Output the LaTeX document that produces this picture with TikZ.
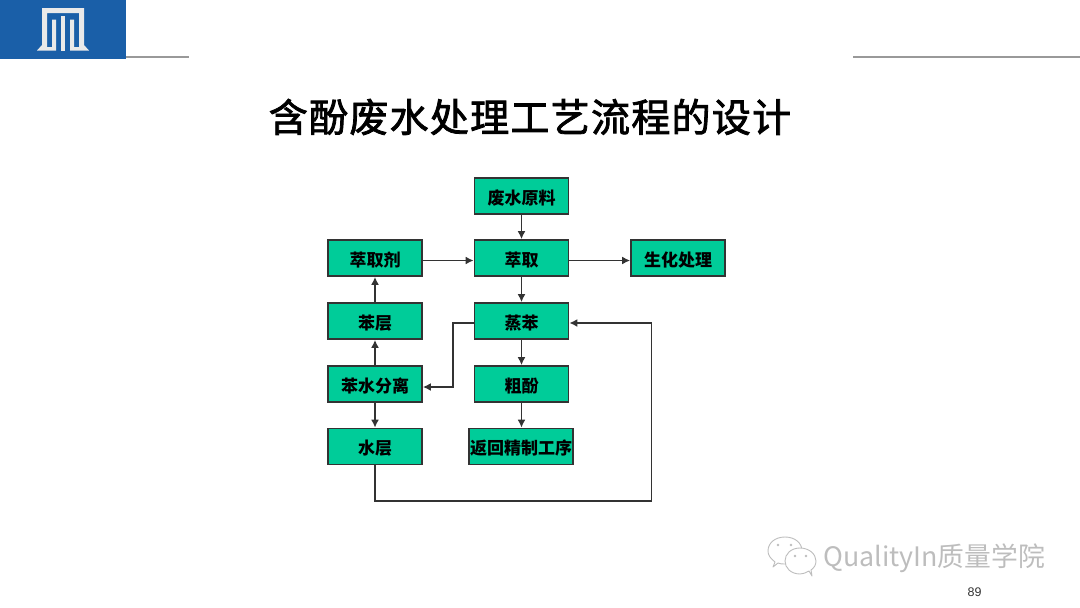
\documentclass[tikz,border=0pt]{standalone}
\usepackage{fontspec}
\setmainfont{Liberation Sans}
\newfontfamily\cjk{Noto Sans CJK SC}
\usetikzlibrary{arrows.meta,calc}
\definecolor{boxgreen}{HTML}{00CC99}
\definecolor{edgeink}{HTML}{333333}
\definecolor{logoblue}{HTML}{1A5FA8}
\definecolor{logolight}{HTML}{E9E9E9}
\definecolor{rulegray}{HTML}{999999}
\definecolor{markgray}{HTML}{BDBDBD}
\tikzset{
  x=1pt,y=-1pt,
  flowbox/.style={draw=edgeink,fill=boxgreen,line width=1.7pt,minimum width=94pt,minimum height=36pt,inner sep=0pt,
    text height=18pt,text depth=1.4pt,
    font=\cjk\bfseries\fontsize{17}{18}\selectfont,text=black},
  flowline/.style={draw=edgeink,line width=1.7pt},
  flowarrow/.style={flowline,-{Latex[length=8pt,width=8pt]}},
  toprule/.style={draw=rulegray,line width=1.3pt},
  bubble/.style={draw=markgray,fill=white,line width=0.9pt,line join=round},
}
\begin{document}
\begin{tikzpicture}
\useasboundingbox (0,0) rectangle (1080,608);
% header
\fill[logoblue] (0,0) rectangle (126,59);
\fill[logolight] (42,8) -- (84,8) -- (84,45) -- (89,50.5) -- (70,50.5) -- (70,19.5) -- (74,19.5) -- (74,47) -- (79,47) -- (79,13) -- (47,13) -- (47,47) -- (52,47) -- (52,19.5) -- (56,19.5) -- (56,50.5) -- (37,50.5) -- (42,45) -- cycle;
\fill[logolight] (61,16) rectangle (65,50.5);
\draw[toprule] (126,57) -- (189,57);
\draw[toprule] (853,57) -- (1080,57);
\node[inner sep=0pt,font=\cjk\fontsize{39}{42}\selectfont\addfontfeature{LetterSpace=3.3,FakeBold=2}] (title) at (530,117) {含酚废水处理工艺流程的设计};
% boxes
\node[flowbox] (raw) at (521.5,196) {废水原料};
\node[flowbox] (ext) at (521.5,258) {萃取};
\node[flowbox] (bio) at (678,258) {生化处理};
\node[flowbox] (sol) at (375,258) {萃取剂};
\node[flowbox] (bl) at (375,321) {苯层};
\node[flowbox] (dist) at (521.5,321) {蒸苯};
\node[flowbox] (sep) at (375,384) {苯水分离};
\node[flowbox] (phe) at (521.5,384) {粗酚};
\node[flowbox] (wl) at (375,446.5) {水层};
\node[flowbox,minimum width=104pt] (ret) at (521,446.5) {返回精制工序};
% connectors
\draw[flowarrow] (raw) -- (ext);
\draw[flowarrow] (ext) -- (dist);
\draw[flowarrow] (dist) -- (phe);
\draw[flowarrow] (phe) -- (ret.north -| phe);
\draw[flowarrow] (bl) -- (sol);
\draw[flowarrow] (sep) -- (bl);
\draw[flowarrow] (sep) -- (wl);
\draw[flowarrow] ($(sol.east)+(0,2.5)$) -- ($(ext.west)+(0,2.5)$);
\draw[flowarrow] ($(ext.east)+(0,2.5)$) -- ($(bio.west)+(0,2.5)$);
\coordinate (d1) at (453,323);
\coordinate (d2) at (453,387);
\draw[flowarrow] (dist.west |- d1) -- (d1) -- (d2) -- (sep.east |- d2);
\coordinate (w1) at (375,501);
\coordinate (w2) at (651.5,501);
\coordinate (w3) at (651.5,323);
\draw[flowarrow] (wl) -- (w1) -- (w2) -- (w3) -- (dist.east |- w3);
% watermark
\draw[bubble] (775,562) .. controls (770,558) and (768,555) .. (768,551) .. controls (768,543) and (775,537) .. (785,537) .. controls (795,537) and (802,543) .. (802,551) .. controls (802,558) and (795,564) .. (785,564) .. controls (782,564) and (780,564) .. (778,563) -- (773,567) -- cycle;
\draw[bubble] (809,571) .. controls (805,573) and (803,574) .. (800,574) .. controls (791,574) and (785,568) .. (785,561) .. controls (785,554) and (791,548) .. (800,548) .. controls (809,548) and (816,554) .. (816,561) .. controls (816,565) and (814,568) .. (811,570) -- (812,576) -- cycle;
\fill[markgray] (778,545) circle (1.3) (791,545) circle (1.3) (795,556) circle (1.3) (806,556) circle (1.3);
\node[anchor=west,inner sep=0pt,text=markgray,font=\cjk\fontsize{26.8}{28}\selectfont] (mark) at (823,558) {QualityIn质量学院};
\node[inner sep=0pt,text=edgeink,font=\fontsize{12.5}{14}\selectfont] (page) at (974.5,592) {89};
\end{tikzpicture}
\end{document}
